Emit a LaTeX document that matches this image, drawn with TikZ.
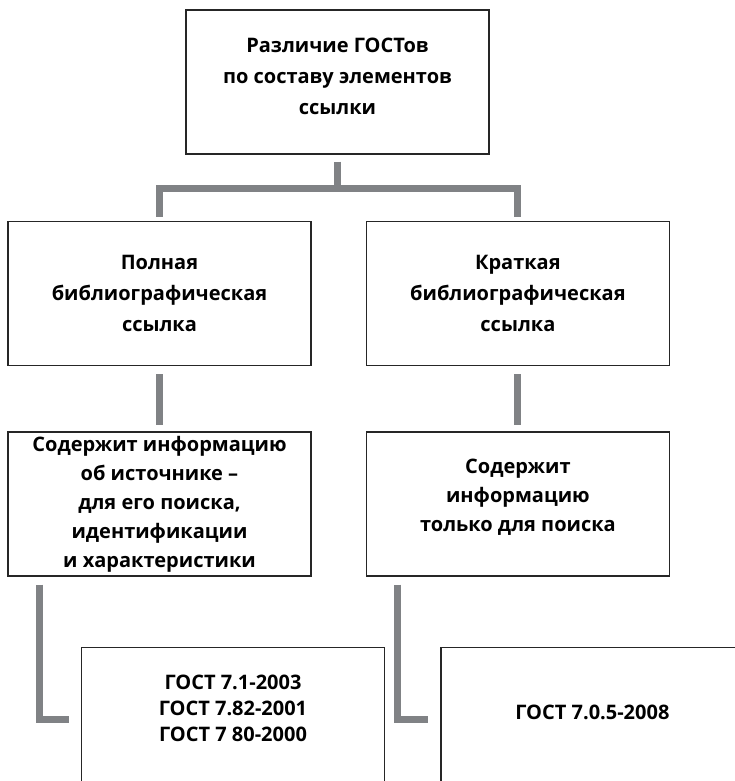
\documentclass[tikz,border=0pt]{standalone}
\usepackage{fontspec}
\setmainfont{Open Sans}
\usetikzlibrary{positioning}
\definecolor{linkGray}{HTML}{808285}

\begin{document}
\begin{tikzpicture}[x=1pt, y=-1pt,
    box/.style={draw=black!85, line width=1.4pt, minimum width=303pt, minimum height=144pt,
                inner sep=0pt, align=center, font=\bfseries\fontsize{20}{31}\selectfont},
    link/.style={draw=linkGray, line width=7pt}]
    \clip (0,0) rectangle (735,781);

    % levels of the scheme
    \node[box, text depth=12pt] (root) at (337.5,82) {Различие ГОСТов\\по составу элементов\\ссылки};
    \node[box] (full) [below=66pt of root, xshift=-178pt] {Полная\\библиографическая\\ссылка};
    \node[box] (brief) [right=54pt of full] {Краткая\\библиографическая\\ссылка};
    \node[box, font=\bfseries\fontsize{20}{29}\selectfont] (fullinfo) [below=65pt of full]
        {Содержит информацию\\об источнике –\\для его поиска,\\идентификации\\и характеристики};
    \node[box, font=\bfseries\fontsize{20}{29}\selectfont, text depth=18pt] (briefinfo) [right=54pt of fullinfo]
        {Содержит\\информацию\\только для поиска};
    \node[box, font=\bfseries\fontsize{20}{26}\selectfont, text depth=22pt] (fullgost) [below=70pt of fullinfo, xshift=73.5pt]
        {ГОСТ 7.1-2003\\ГОСТ 7.82-2001\\ГОСТ 7 80-2000};
    \node[box, text depth=14pt] (briefgost) [right=55pt of fullgost] {ГОСТ 7.0.5-2008};

    % gray connectors
    \draw[link] ([yshift=-7pt]root.south) -- ([yshift=-34pt]root.south);
    \draw[link] ([yshift=4pt]full.north) |- ([yshift=-34pt]root.south) -| ([yshift=4pt]brief.north);
    \draw[link] ([yshift=-8pt]full.south) -- ([yshift=6pt]fullinfo.north);
    \draw[link] ([yshift=-8pt]brief.south) -- ([yshift=6pt]briefinfo.north);
    \draw[link] ([xshift=32.5pt, yshift=-8pt]fullinfo.south west) |- ([xshift=-12pt]fullgost.west);
    \draw[link] ([xshift=32pt, yshift=-8pt]briefinfo.south west) |- ([xshift=-12pt]briefgost.west);
\end{tikzpicture}
\end{document}
